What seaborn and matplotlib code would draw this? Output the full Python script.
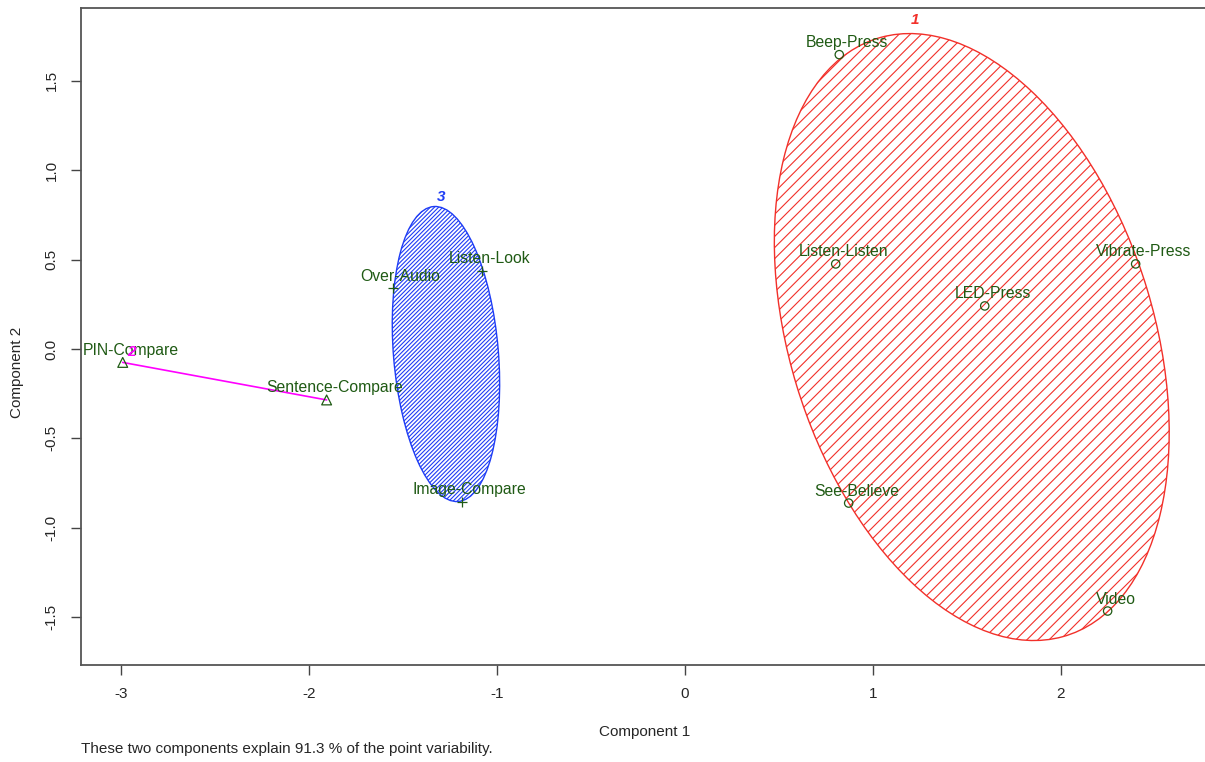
import numpy as np
import pandas as pd
import matplotlib
matplotlib.use('Agg')
import matplotlib.pyplot as plt
from matplotlib.patches import Ellipse
import seaborn as sns

# cluster 1 (circles)
names1 = ['Beep-Press', 'Listen-Listen', 'Vibrate-Press', 'LED-Press', 'See-Believe', 'Video']
x1 = [0.822, 0.803, 2.399, 1.596, 0.872, 2.250]
y1 = [1.647, 0.476, 0.476, 0.241, -0.862, -1.466]
# cluster 2 (triangles)
names2 = ['PIN-Compare', 'Sentence-Compare']
x2 = [-2.991, -1.906]
y2 = [-0.075, -0.285]
# cluster 3 (plus)
names3 = ['Over-Audio', 'Listen-Look', 'Image-Compare']
x3 = [-1.555, -1.081, -1.188]
y3 = [0.340, 0.438, -0.854]

# spanning ellipses: centre, half axes, angle
ell_cx = [1.527, -1.271]
ell_cy = [0.067, -0.028]
ell_a = [1.745, 0.8277]
ell_b = [0.9706, 0.2791]
ell_ang = [106.1, 94.5]

clus_ids = ['1', '2', '3']
clus_lx = [1.223, -2.943, -1.298]
clus_ly = [1.841, -0.015, 0.851]

xticks = [-3, -2, -1, 0, 1, 2]
yticks = [-1.5, -1.0, -0.5, 0.0, 0.5, 1.0, 1.5]

sns.set_style('white')
plt.rcParams['font.family'] = ['Liberation Sans', 'DejaVu Sans']
plt.rcParams['axes.unicode_minus'] = False
plt.rcParams['hatch.linewidth'] = 0.8

green = '#1f5a14'
red = '#f2302a'
blue = '#1f3df5'
magenta = '#ff00ff'

fig = plt.figure(figsize=(12.05, 7.62), dpi=100)
ax = fig.add_axes([81 / 1205, 1 - 665 / 762, 1130 / 1205, 657 / 762])

# ellipses
ax.add_patch(Ellipse((ell_cx[0], ell_cy[0]), 2 * ell_a[0], 2 * ell_b[0], angle=ell_ang[0],
                     facecolor='none', edgecolor=red, hatch='///', linewidth=1.0))
ax.add_patch(Ellipse((ell_cx[1], ell_cy[1]), 2 * ell_a[1], 2 * ell_b[1], angle=ell_ang[1],
                     facecolor='none', edgecolor=blue, hatch='////////', linewidth=1.0))

# two-point cluster is a segment
ax.plot(x2, y2, color=magenta, lw=1.2)

df1 = pd.DataFrame({'x': x1, 'y': y1, 'name': names1})
df2 = pd.DataFrame({'x': x2, 'y': y2, 'name': names2})
df3 = pd.DataFrame({'x': x3, 'y': y3, 'name': names3})

sns.scatterplot(df1, x='x', y='y', marker='o', s=36, facecolor='none',
                edgecolor=green, linewidth=0.9, ax=ax, zorder=5)
sns.scatterplot(df2, x='x', y='y', marker='^', s=50, facecolor='none',
                edgecolor=green, linewidth=0.9, ax=ax, zorder=5)
sns.scatterplot(df3, x='x', y='y', marker='+', s=60, color=green,
                linewidth=0.9, ax=ax, zorder=5)

for d in [df1, df2, df3]:
    for _, r in d.iterrows():
        ax.annotate(r['name'], (r['x'], r['y']), xytext=(8, 12), textcoords='offset pixels',
                    ha='center', va='center', fontsize=11.3, color=green, zorder=6)

for lab, lx, ly, c in zip(clus_ids, clus_lx, clus_ly, [red, magenta, blue]):
    ax.text(lx, ly, lab, color=c, fontsize=11, fontweight='bold', fontstyle='italic',
            ha='center', va='center', zorder=7)

ax.set_xlim(-3.213, 2.8)
ax.set_ylim(-1.768, 1.908)
ax.set_xticks(xticks)
ax.set_xticklabels([str(t) for t in xticks])
ax.set_yticks(yticks)
ax.set_yticklabels(['%.1f' % t for t in yticks], rotation=90, va='center')
ax.tick_params(axis='both', direction='out', length=7, width=1, color='#444444',
               labelsize=11, pad=9, bottom=True, left=True)
for sp in ax.spines.values():
    sp.set_color('#555555')
    sp.set_linewidth(1.3)
ax.set_xlabel('')
ax.set_ylabel('')

fig.text(645 / 1205, 1 - 732 / 762, 'Component 1', ha='center', va='center', fontsize=11)
fig.text(17 / 1205, 1 - 372 / 762, 'Component 2', ha='center', va='center', fontsize=11,
         rotation=90)
fig.text(81 / 1205, 1 - 749 / 762, 'These two components explain 91.3 % of the point variability.',
         ha='left', va='center', fontsize=11)

fig.savefig('out.png', dpi=100)
